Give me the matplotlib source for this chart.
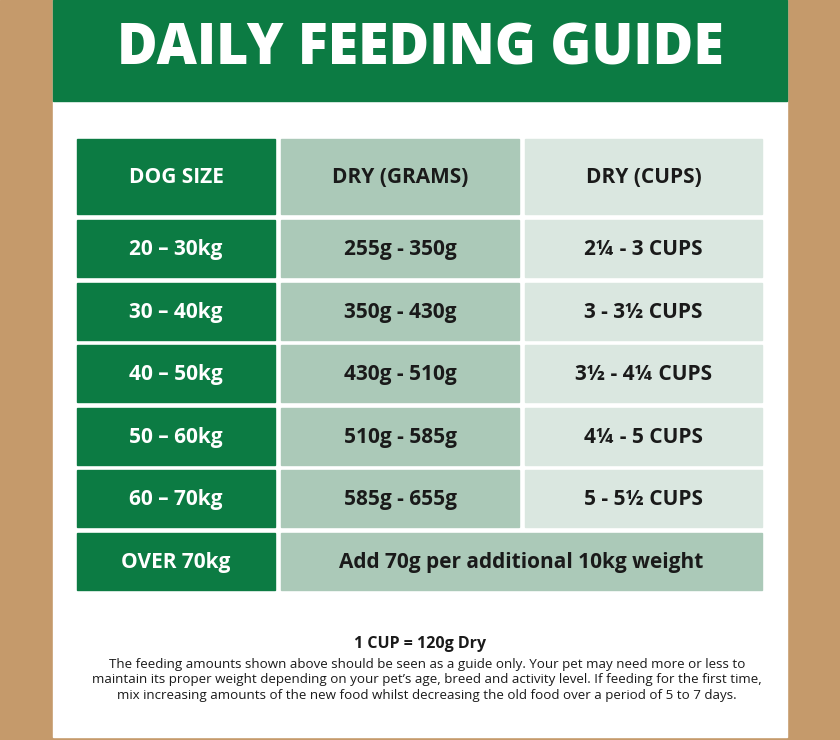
import matplotlib
matplotlib.use('Agg')
import matplotlib.pyplot as plt
from matplotlib.patches import Rectangle

title = 'DAILY FEEDING GUIDE'
headers = ['DOG SIZE', 'DRY (GRAMS)', 'DRY (CUPS)']
sizes = ['20 – 30kg', '30 – 40kg', '40 – 50kg', '50 – 60kg', '60 – 70kg']
grams = ['255g - 350g', '350g - 430g', '430g - 510g', '510g - 585g', '585g - 655g']
cups = ['2¼ - 3 CUPS', '3 - 3½ CUPS', '3½ - 4¼ CUPS', '4¼ - 5 CUPS', '5 - 5½ CUPS']
last_size = 'OVER 70kg'
last_note = 'Add 70g per additional 10kg weight'
cup_def = '1 CUP = 120g Dry'
footnote = ('The feeding amounts shown above should be seen as a guide only. Your pet may need more or less to\n'
            'maintain its proper weight depending on your pet\u2019s age, breed and activity level. If feeding for the first time,\n'
            'mix increasing amounts of the new food whilst decreasing the old food over a period of 5 to 7 days.')

GREEN = '#0c7b43'
SAGE = '#abc9b8'
PALE = '#dae7e0'
TAN = '#c59a6b'
FONT = 'Open Sans'

fig = plt.figure(figsize=(8.4, 7.4), dpi=100)
ax = fig.add_axes([0, 0, 1, 1])
ax.set_xlim(0, 840)
ax.set_ylim(740, 0)
ax.axis('off')

ax.add_patch(Rectangle((0, 0), 840, 740, color=TAN))
ax.add_patch(Rectangle((53, 0), 734, 737, color='white'))
ax.add_patch(Rectangle((53, 0), 734, 101, color=GREEN))
ax.text(420, 50, title, color='white', fontsize=40, fontweight='heavy',
        ha='center', va='center', family=FONT)

cols = [(77, 275), (281, 519), (525, 762)]
col_colors = [GREEN, SAGE, PALE]
text_colors = ['white', '#1a1a1a', '#1a1a1a']


def cell(x0, x1, y0, y1, color, txt, tcol):
    ax.add_patch(Rectangle((x0, y0), x1 - x0, y1 - y0, color=color))
    ax.text((x0 + x1) / 2, (y0 + y1) / 2 + 1, txt, color=tcol, fontsize=15,
            fontweight='bold', ha='center', va='center', family=FONT)


for (x0, x1), c, tc, h in zip(cols, col_colors, text_colors, headers):
    cell(x0, x1, 139, 214, c, h, tc)

row_h = 62.6
for i, row in enumerate(zip(sizes, grams, cups)):
    y0 = 220 + i * row_h
    for (x0, x1), c, tc, t in zip(cols, col_colors, text_colors, row):
        cell(x0, x1, y0, y0 + 57, c, t, tc)

y0 = 220 + 5 * row_h
cell(77, 275, y0, y0 + 57, GREEN, last_size, 'white')
cell(281, 762, y0, y0 + 57, SAGE, last_note, '#1a1a1a')

ax.text(420, 644, cup_def, fontsize=11.5, fontweight='bold', ha='center',
        va='center', family=FONT, color='#1a1a1a')
ax.text(427, 680, footnote, fontsize=9.6, ha='center', va='center',
        family=FONT, color='#1a1a1a', linespacing=1.25)

fig.savefig('out.png', dpi=100)
